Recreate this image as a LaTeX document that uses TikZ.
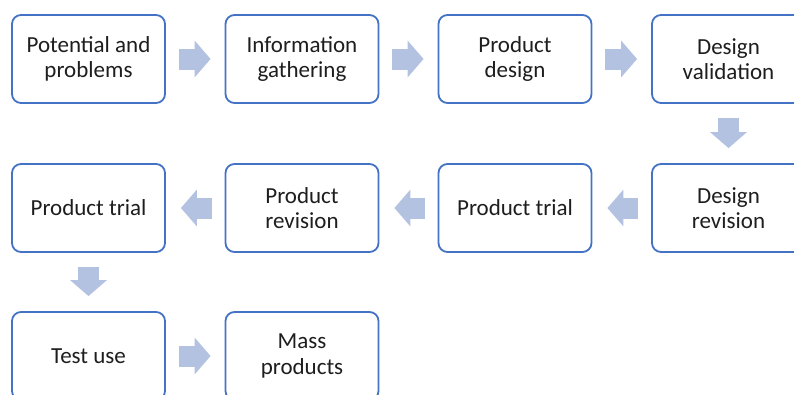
\documentclass[tikz,border=0pt]{standalone}
\usepackage{fontspec}
\setmainfont{Carlito}
\usetikzlibrary{arrows.meta,calc}
\definecolor{boxline}{HTML}{4472C4}
\definecolor{arrowfill}{HTML}{B4C2E2}
\definecolor{txt}{HTML}{1E1E1E}
\tikzset{
  stepbox/.style={draw=boxline, line width=1.8pt, rounded corners=9pt, fill=white,
    minimum width=153pt, minimum height=88pt, align=center, text=txt,
    font=\fontsize{23}{25.5}\selectfont, inner sep=2pt},
  blockarrow/.style={line width=21pt, draw=arrowfill,
    -{Triangle[length=16pt,width=36pt]}}
}
\begin{document}
\begin{tikzpicture}[x=1pt,y=-1pt]
\useasboundingbox (0,0) rectangle (794,394);
\node[stepbox] (n1) at (88.5,59) {Potential and\\problems};
\node[stepbox] (n2) at (302,59) {Information\\gathering};
\node[stepbox] (n3) at (515,59) {Product\\design};
\node[stepbox] (n4) at (728.5,59) {Design\\validation};
\node[stepbox] (n5) at (728.5,208) {Design\\revision};
\node[stepbox] (n6) at (515,208) {Product trial};
\node[stepbox] (n7) at (302,208) {Product\\revision};
\node[stepbox] (n8) at (88.5,208) {Product trial};
\node[stepbox] (n9) at (88.5,356) {Test use};
\node[stepbox] (n10) at (302,356) {Mass\\products};
\draw[blockarrow] ($(n1.east)+(13,0)$) -- ($(n2.west)+(-14,0)$);
\draw[blockarrow] ($(n2.east)+(13,0)$) -- ($(n3.west)+(-14,0)$);
\draw[blockarrow] ($(n3.east)+(13,0)$) -- ($(n4.west)+(-14,0)$);
\draw[blockarrow] ($(n4.south)+(0,14)$) -- ($(n5.north)+(0,-15)$);
\draw[blockarrow] ($(n5.west)+(-13,0)$) -- ($(n6.east)+(15,0)$);
\draw[blockarrow] ($(n6.west)+(-13,0)$) -- ($(n7.east)+(15,0)$);
\draw[blockarrow] ($(n7.west)+(-13,0)$) -- ($(n8.east)+(15,0)$);
\draw[blockarrow] ($(n8.south)+(0,14)$) -- ($(n9.north)+(0,-15)$);
\draw[blockarrow] ($(n9.east)+(13,0)$) -- ($(n10.west)+(-14,0)$);
\end{tikzpicture}
\end{document}
